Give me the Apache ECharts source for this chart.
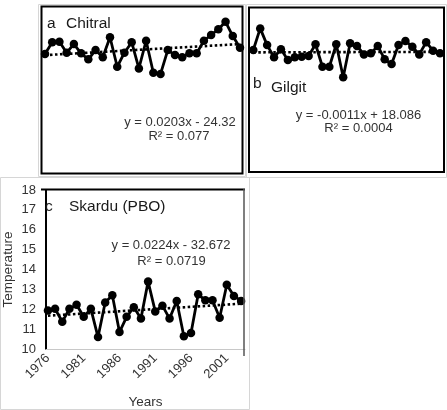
<!DOCTYPE html>
<html><head><meta charset="utf-8">
<script src="https://cdn.jsdelivr.net/npm/echarts@6/dist/echarts.min.js"></script>
<style>html,body{margin:0;padding:0;background:#fff}#c{width:447px;height:410px}</style>
</head><body><div id="c"></div>
<script>
const years = [1976,1977,1978,1979,1980,1981,1982,1983,1984,1985,1986,1987,1988,1989,1990,1991,1992,1993,1994,1995,1996,1997,1998,1999,2000,2001,2002,2003];
const chitral = [15.82,16.39,16.41,15.88,16.30,15.85,15.56,16.01,15.66,16.63,15.20,15.88,16.39,15.12,16.46,14.91,14.85,16.01,15.77,15.66,15.85,15.85,16.46,16.74,17.02,17.38,16.69,16.12];
const gilgit = [16.01,17.06,16.25,15.66,16.05,15.53,15.66,15.69,15.72,16.29,15.20,15.20,16.29,14.69,16.34,16.21,15.80,15.85,16.21,15.56,15.33,16.25,16.45,16.17,15.80,16.39,15.98,15.85];
const skardu = [11.94,12.02,11.37,12.02,12.23,11.62,12.02,10.60,12.34,12.70,10.85,11.62,12.10,11.53,13.39,11.89,12.18,11.53,12.42,10.64,10.80,12.75,12.45,12.45,11.57,13.23,12.67,12.42];
const xTickLabels = [1976,1981,1986,1991,1996,2001];
const panelTitles = ['Chitral','Gilgit','Skardu (PBO)'];
const panelLetters = ['a','b','c'];
const equations = ['y = 0.0203x - 24.32','y = -0.0011x + 18.086','y = 0.0224x - 32.672'];
const rSquared = ['R\u00b2 = 0.077','R\u00b2 = 0.0004','R\u00b2 = 0.0719'];

function trend(xs, ys){
  const n = xs.length;
  const mx = xs.reduce((a,b)=>a+b,0)/n, my = ys.reduce((a,b)=>a+b,0)/n;
  let sxy=0, sxx=0;
  for(let i=0;i<n;i++){sxy+=(xs[i]-mx)*(ys[i]-my); sxx+=(xs[i]-mx)*(xs[i]-mx);}
  const b = sxy/sxx, a = my - b*mx;
  return [[xs[0], a+b*xs[0]],[xs[n-1], a+b*xs[n-1]]];
}
const pairs = arr => years.map((y,i)=>[y,arr[i]]);

const chart = echarts.init(document.getElementById('c'), null, {renderer:'canvas'});
const FONT = 'Liberation Sans, Arial, sans-serif';
const dataSets = [chitral, gilgit, skardu];

const series = [];
dataSets.forEach((d,i)=>{
  series.push({type:'line', xAxisIndex:i, yAxisIndex:i, data:pairs(d), symbol:'circle', symbolSize:8.5,
    itemStyle:{color:'#000'}, lineStyle:{color:'#000', width:2.8}, z:3, animation:false});
  series.push({type:'line', xAxisIndex:i, yAxisIndex:i, data:trend(years,d), symbol:'none',
    lineStyle:{color:'#000', width:2.6, type:[2.5,2.5]}, z:2, animation:false});
});

const txt = (text, x, y, size, align, color) => ({type:'text', x:x, y:y, z:10,
  style:{text:text, font: size+'px '+FONT, fill: color||'#1a1a1a', align: align||'left', verticalAlign:'middle'}});

const option = {
  backgroundColor:'#fff',
  animation:false,
  grid:[
    {left:45, top:9, width:195, height:165},
    {left:253.3, top:9, width:186.7, height:165},
    {left:41, top:190, width:204, height:166}
  ],
  xAxis:[
    {gridIndex:0, type:'value', min:1976, max:2003, show:false},
    {gridIndex:1, type:'value', min:1976, max:2003, show:false},
    {gridIndex:2, type:'value', min:1975.727, max:2003.545,
      axisLine:{show:true, lineStyle:{color:'#c8c8c8', width:1}},
      axisTick:{show:false}, splitLine:{show:false},
      axisLabel:{customValues:xTickLabels, rotate:45, fontSize:13, fontFamily:FONT, color:'#333', margin:7, formatter:v=>String(v)},
      name:'Years', nameLocation:'middle', nameGap:46, nameTextStyle:{fontSize:13.5, fontFamily:FONT, color:'#333'}}
  ],
  yAxis:[
    {gridIndex:0, type:'value', min:10, max:18, show:false},
    {gridIndex:1, type:'value', min:10, max:18, show:false},
    {gridIndex:2, type:'value', min:10, max:18, interval:1,
      axisLine:{show:true, lineStyle:{color:'#000', width:2}},
      axisTick:{show:false}, splitLine:{show:false},
      axisLabel:{fontSize:13, fontFamily:FONT, color:'#333', margin:10},
      name:'Temperature', nameLocation:'middle', nameGap:31, nameRotate:90, nameTextStyle:{fontSize:13.5, fontFamily:FONT, color:'#333'}}
  ],
  series:series,
  graphic:[
    {type:'rect', shape:{x:38.5, y:4.5, width:207, height:172}, style:{fill:null, stroke:'#d6d6d6', lineWidth:1}, z:0},
    {type:'rect', shape:{x:246.5, y:4.5, width:200, height:173}, style:{fill:null, stroke:'#d6d6d6', lineWidth:1}, z:0},
    {type:'rect', shape:{x:0.5, y:177.5, width:249, height:232}, style:{fill:null, stroke:'#d6d6d6', lineWidth:1}, z:0},
    {type:'rect', shape:{x:41.5, y:6.5, width:201, height:167}, style:{fill:null, stroke:'#000', lineWidth:2}, z:10},
    {type:'rect', shape:{x:249, y:7.5, width:195, height:164.5}, style:{fill:null, stroke:'#000', lineWidth:2}, z:10},
    {type:'line', shape:{x1:41, y1:189.5, x2:245, y2:189.5}, style:{stroke:'#000', lineWidth:2}, z:10},
    {type:'line', shape:{x1:244, y1:189, x2:244, y2:356}, style:{stroke:'#555', lineWidth:1.5}, z:10},
    txt(panelLetters[0], 47, 24, 15.5), txt(panelTitles[0], 66, 24, 15.5),
    txt(equations[0], 180, 122, 13, 'center', '#333'), txt(rSquared[0], 179, 136, 13, 'center', '#333'),
    txt(panelLetters[1], 253, 84, 15.5), txt(panelTitles[1], 271, 88, 15.5),
    txt(equations[1], 358.5, 115, 13, 'center', '#333'), txt(rSquared[1], 358.5, 128, 13, 'center', '#333'),
    txt(panelLetters[2], 45, 207, 15.5), txt(panelTitles[2], 69, 207, 15.5),
    txt(equations[2], 171, 245, 13, 'center', '#333'), txt(rSquared[2], 171.5, 261, 13, 'center', '#333')
  ]
};
chart.setOption(option);
</script>
</body></html>
